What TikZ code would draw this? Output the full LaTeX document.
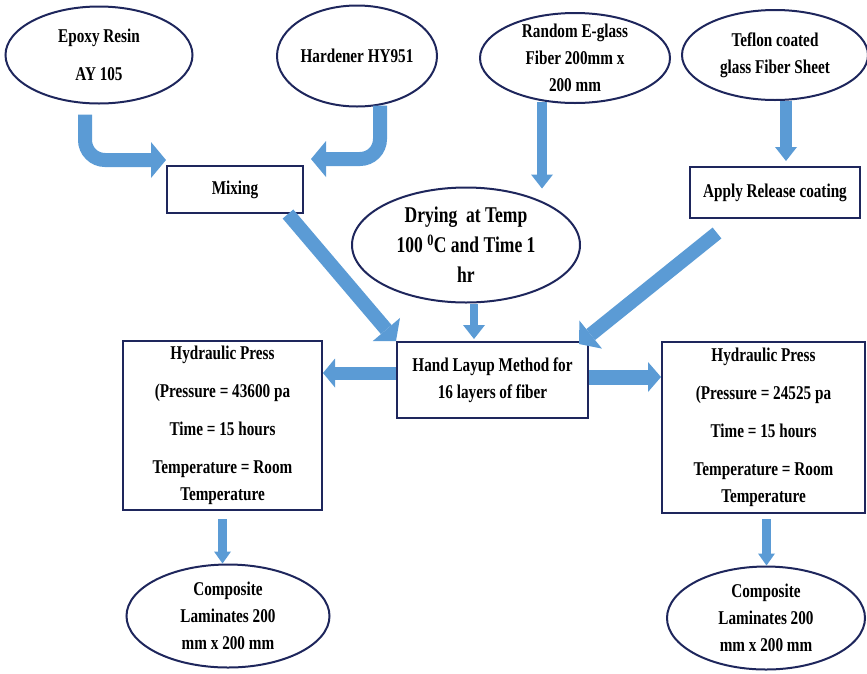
\documentclass[tikz,border=0pt]{standalone}
\usepackage{fontspec}
\newfontfamily\flowfont{Liberation Serif}[FakeStretch=0.78]
\usetikzlibrary{shapes.geometric, arrows.meta, calc}
\definecolor{navy}{RGB}{30,38,92}
\definecolor{arrowblue}{RGB}{91,155,213}
\tikzset{
    txt/.style={font=\flowfont\bfseries\fontsize{19.5}{27}\selectfont, align=center},
    oval/.style={ellipse, draw=navy, line width=2pt, txt, inner sep=-12pt},
    stepbox/.style={rectangle, draw=navy, line width=2pt, txt, inner sep=2pt},
    fat/.style={draw=arrowblue, line width=14pt, -{Triangle[length=15pt, width=36pt, line width=0pt]}},
    slim/.style={draw=arrowblue, line width=10pt, -{Triangle[length=14pt, width=22pt, line width=0pt]}}
}

\begin{document}
\begin{tikzpicture}[x=1pt, y=-1pt]
    \useasboundingbox (0,0) rectangle (867,673);
    % inputs
    \node[oval, minimum width=187, minimum height=97] (epoxy) at (99,55) {Epoxy Resin\\[11pt]AY 105};
    \node[oval, minimum width=160, minimum height=101] (hard) at (357,56) {Hardener HY951};
    \node[oval, minimum width=190, minimum height=90] (glass) at (575,58) {Random E-glass\\Fiber 200mm x\\200 mm};
    \node[oval, minimum width=186, minimum height=90] (tef) at (775,55) {Teflon coated\\glass Fiber Sheet};
    \node[stepbox, minimum width=136, minimum height=47] (mix) at (235,189.5) {Mixing};
    \node[stepbox, minimum width=170, minimum height=51] (apply) at (775,192.5) {Apply Release coating};
    \node[oval, minimum width=228, minimum height=115, font=\flowfont\bfseries\fontsize{22.5}{30}\selectfont] (dry) at (466,245) {Drying~~at Temp\\100 \textsuperscript{0}C and Time 1\\hr};
    \node[stepbox, minimum width=191, minimum height=76] (hand) at (492.5,380) {Hand Layup Method for\\16 layers of fiber};
    % presses and products
    \node[stepbox, minimum width=199, minimum height=169] (lhp) at (222.5,425.5) {Hydraulic Press\\[11pt](Pressure = 43600 pa\\[11pt]Time = 15 hours\\[11pt]Temperature = Room\\Temperature};
    \node[stepbox, minimum width=203, minimum height=171] (rhp) at (763.5,427.5) {Hydraulic Press\\[11pt](Pressure = 24525 pa\\[11pt]Time = 15 hours\\[11pt]Temperature = Room\\Temperature};
    \node[oval, minimum width=203, minimum height=103] (lcomp) at (228,616) {Composite\\Laminates 200\\mm x 200 mm};
    \node[oval, minimum width=198, minimum height=103] (rcomp) at (766,618) {Composite\\Laminates 200\\mm x 200 mm};
    % bent arrows into mixing
    \draw[fat, rounded corners=20pt] ($(epoxy.south)+(-14,10)$) |- ($(mix.north west)+(0,-5)$);
    \draw[fat, rounded corners=20pt] ($(hard.south)+(23,-2)$) |- ($(mix.north east)+(7,-6)$);
    \draw[slim] ($(glass.south)+(-33,-2)$) -- ($(dry.north)+(76,2)$);
    \draw[slim, line width=12pt] ($(tef.south)+(11,0)$) -- ($(apply.north)+(11,-5)$);
    % into hand layup
    \draw[fat] ($(mix.south east)+(-16,0)$) -- (hand.north west);
    \draw[slim, line width=8pt] ($(dry.south)+(8,0)$) -- ($(dry.south |- hand.north)+(8,-2)$);
    \draw[fat] ($(apply.south west)+(28,14)$) -- ($(hand.north east)+(-10,3)$);
    % out to the presses
    \coordinate (lstart) at ($(hand.west)+(0,-7)$);
    \coordinate (rstart) at ($(hand.east)+(0,-3)$);
    \draw[fat, line width=13pt, -{Triangle[length=12pt, width=29pt, line width=0pt]}] (lstart) -- (lstart -| lhp.east);
    \draw[fat, line width=15pt, -{Triangle[length=13pt, width=30pt, line width=0pt]}] (rstart) -- (rstart -| rhp.west);
    \draw[slim, line width=9pt, -{Triangle[length=12pt, width=17pt, line width=0pt]}] ($(lhp.south)+(0,8)$) -- (lhp.south |- lcomp.north);
    \draw[slim, line width=9pt, -{Triangle[length=12pt, width=17pt, line width=0pt]}] ($(rhp.south)+(3,5)$) -- ($(rhp.south |- rcomp.north)+(3,0)$);
\end{tikzpicture}
\end{document}
